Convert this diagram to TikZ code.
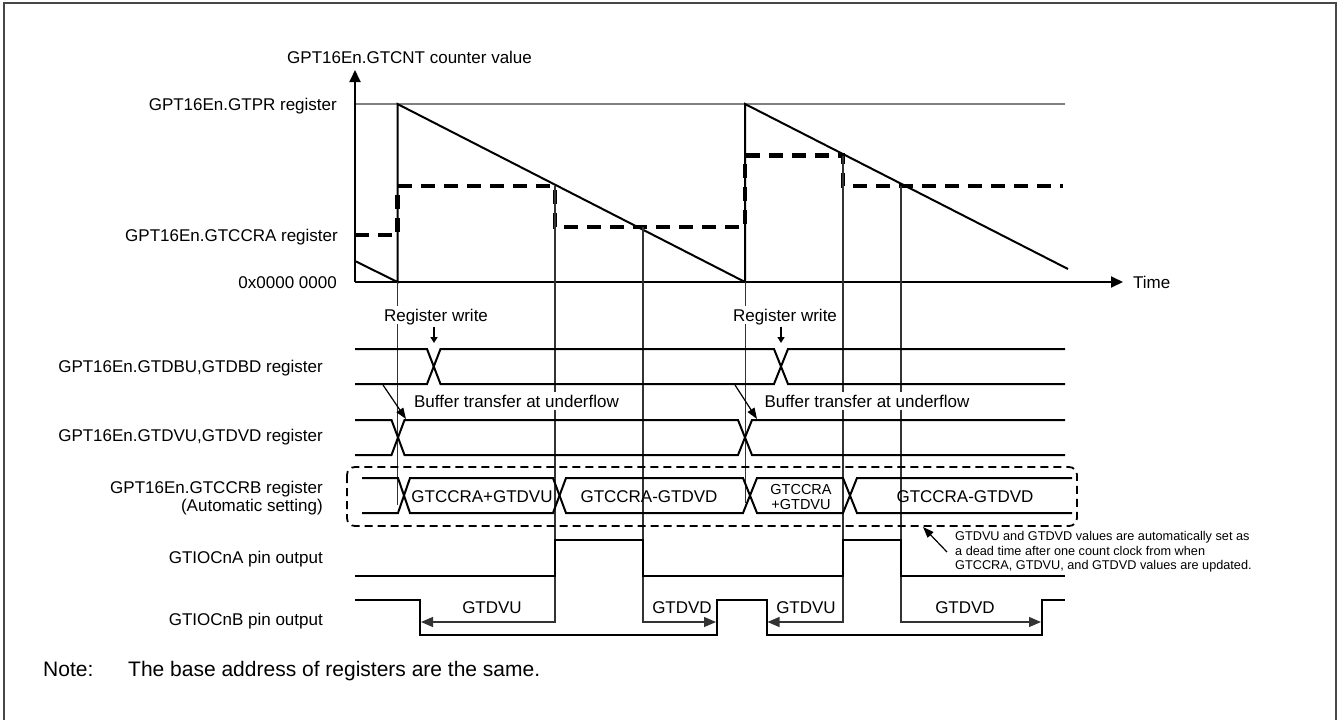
\documentclass[tikz,border=0pt]{standalone}
\usepackage{fontspec}
\setmainfont{Liberation Sans}
\usetikzlibrary{arrows.meta}
\begin{document}
\begin{tikzpicture}[x=1pt,y=-1pt,
  wave/.style={line width=2pt, line join=miter},
  guide/.style={line width=1pt, draw=black!80},
  dimarrow/.style={line width=1.2pt, -{Triangle[length=12pt,width=10pt]}},
  lbl/.style={font=\fontsize{17}{20}\selectfont, inner sep=0pt, text height=12.2pt, text depth=0pt},
  mlbl/.style={font=\fontsize{17}{17.5}\selectfont, inner sep=0pt},
  wlbl/.style={lbl, fill=white, inner xsep=1pt, inner ysep=3pt},
  ccra/.style={line width=4.5pt, dash pattern=on 14pt off 9pt},
  axis/.style={line width=1.8pt, -{Triangle[length=12pt,width=11pt]}}
]
\useasboundingbox (0,0) rectangle (1339,720);
% frame
\draw[line width=2pt, draw=black!72] (4,3) rectangle (1336,730);

% ---------- counter chart ----------
\coordinate (org) at (355,282);
\coordinate (ytip) at (355,70);
\coordinate (xtip) at (1123,282);
\draw[line width=1.5pt, draw=black!50] (355,104) -- (1065,104);
\draw[axis] (org) -- (ytip);
\draw[axis] (org) -- (xtip);
\node[lbl, anchor=west] (ylab) at (287,57) {GPT16En.GTCNT counter value};
\node[lbl, anchor=west] (tlab) at (1133,282) {Time};
\node[lbl, anchor=east] (gtpr) at (337,104) {GPT16En.GTPR register};
\node[lbl, anchor=east] (gtccra) at (338,235) {GPT16En.GTCCRA register};
\node[lbl, anchor=east] (zero) at (337,282) {0x0000 0000};

% sawtooth
\draw[wave] (355,261) -- (397.5,282) -- (397.5,104) -- (745,282) -- (745,104) -- (1068,269);
% compare value (dashed)
\draw[ccra] (355,235) -- (397.5,235) -- (397.5,186) -- (555,186) -- (555,227) -- (745,227) -- (745,155.5) -- (843,155.5) -- (843,186) -- (1063,186);

% guide lines
\draw[guide] (397.5,282) -- (397.5,505);
\draw[guide] (745,282) -- (745,503);

% dimension guides/arrows
\draw[guide, dimarrow] (555,186) -- (555,622) -- (421,622);
\draw[guide, dimarrow] (643,227) -- (643,622) -- (716,622);
\draw[guide, dimarrow] (843,155.5) -- (843,622) -- (767.5,622);
\draw[guide, dimarrow] (901,186) -- (901,622) -- (1041,622);

% ---------- register write ----------
\node[wlbl] (rw1) at (436,315) {Register write};
\node[wlbl] (rw2) at (785,315) {Register write};
\coordinate (rw1a) at (434,327); \coordinate (rw1b) at (434,343);
\coordinate (rw2a) at (781,327); \coordinate (rw2b) at (781,343);
\draw[line width=1.5pt, -{Triangle[length=6pt,width=7pt]}] (rw1a) -- (rw1b);
\draw[line width=1.5pt, -{Triangle[length=6pt,width=7pt]}] (rw2a) -- (rw2b);

% GTDBU lane
\node[lbl, anchor=east] (dbu) at (323,366) {GPT16En.GTDBU,GTDBD register};
\draw[wave] (355,349)--(427,349)--(440.5,384)--(774,384)--(788,349)--(1065,349);
\draw[wave] (355,384)--(427,384)--(440.5,349)--(774,349)--(788,384)--(1065,384);

% buffer transfer
\node[wlbl] (bt1) at (516.5,401) {Buffer transfer at underflow};
\node[wlbl] (bt2) at (867,401) {Buffer transfer at underflow};
\coordinate (bt1a) at (383,385); \coordinate (bt1b) at (406,419);
\coordinate (bt2a) at (735,385); \coordinate (bt2b) at (757,419);
\draw[line width=1.2pt, -{Triangle[length=11pt,width=8pt]}] (bt1a) -- (bt1b);
\draw[line width=1.2pt, -{Triangle[length=11pt,width=8pt]}] (bt2a) -- (bt2b);

% GTDVU lane
\node[lbl, anchor=east] (dvu) at (323,435) {GPT16En.GTDVU,GTDVD register};
\draw[wave] (355,420)--(391.5,420)--(404.5,455)--(738,455)--(752,420)--(1065,420);
\draw[wave] (355,455)--(391.5,455)--(404.5,420)--(738,420)--(752,455)--(1065,455);

% GTCCRB lane
\node[mlbl, anchor=east, align=right] (ccrb) at (323,498) {GPT16En.GTCCRB register\\(Automatic setting)};
\draw[line width=1.8pt, dash pattern=on 8pt off 5pt, rounded corners=8pt] (347,467) rectangle (1077,526);
\draw[wave] (362,478)--(398,478)--(410,513)--(553,513)--(566,478)--(743,478)--(757,513)--(843,513)--(857,478)--(1072,478);
\draw[wave] (362,513)--(398,513)--(410,478)--(553,478)--(566,513)--(743,513)--(757,478)--(843,478)--(857,513)--(1072,513);
\node[lbl] (v1) at (482,496) {GTCCRA+GTDVU};
\node[lbl] (v2) at (649,496) {GTCCRA-GTDVD};
\node[font=\fontsize{14.5}{15.3}\selectfont, inner sep=0pt, align=center] (v3) at (801,497) {GTCCRA\\+GTDVU};
\node[lbl] (v4) at (965,496) {GTCCRA-GTDVD};

% annotation
\node[font=\fontsize{12.7}{14.5}\selectfont, inner sep=0pt, align=left, anchor=west] (ann) at (955,552)
  {GTDVU and GTDVD values are automatically set as\\a dead time after one count clock from when\\GTCCRA, GTDVU, and GTDVD values are updated.};
\coordinate (anna) at (947,552); \coordinate (annb) at (923,527);
\draw[line width=1.2pt, -{Triangle[length=11pt,width=8pt]}] (anna) -- (annb);

% GTIOCnA
\node[lbl, anchor=east] (pa) at (323,557) {GTIOCnA pin output};
\draw[wave] (355,576)--(555,576)--(555,540)--(643,540)--(643,576)--(843,576)--(843,540)--(901,540)--(901,576)--(1065,576);

% GTIOCnB
\node[lbl, anchor=east] (pb) at (323,619) {GTIOCnB pin output};
\draw[wave] (355,600)--(420,600)--(420,635)--(716.7,635)--(716.7,600)--(766.5,600)--(766.5,635)--(1041.7,635)--(1041.7,600)--(1065,600);
\node[lbl] (d1) at (492,607) {GTDVU};
\node[lbl] (d2) at (682,607) {GTDVD};
\node[lbl] (d3) at (806,607) {GTDVU};
\node[lbl] (d4) at (965,607) {GTDVD};

% note
\node[lbl, font=\fontsize{21}{24}\selectfont, text height=15pt, anchor=west] (note) at (43,669) {Note:};
\node[lbl, font=\fontsize{21}{24}\selectfont, text height=15pt, anchor=west] (notetxt) at (128,669) {The base address of registers are the same.};
\end{tikzpicture}
\end{document}
